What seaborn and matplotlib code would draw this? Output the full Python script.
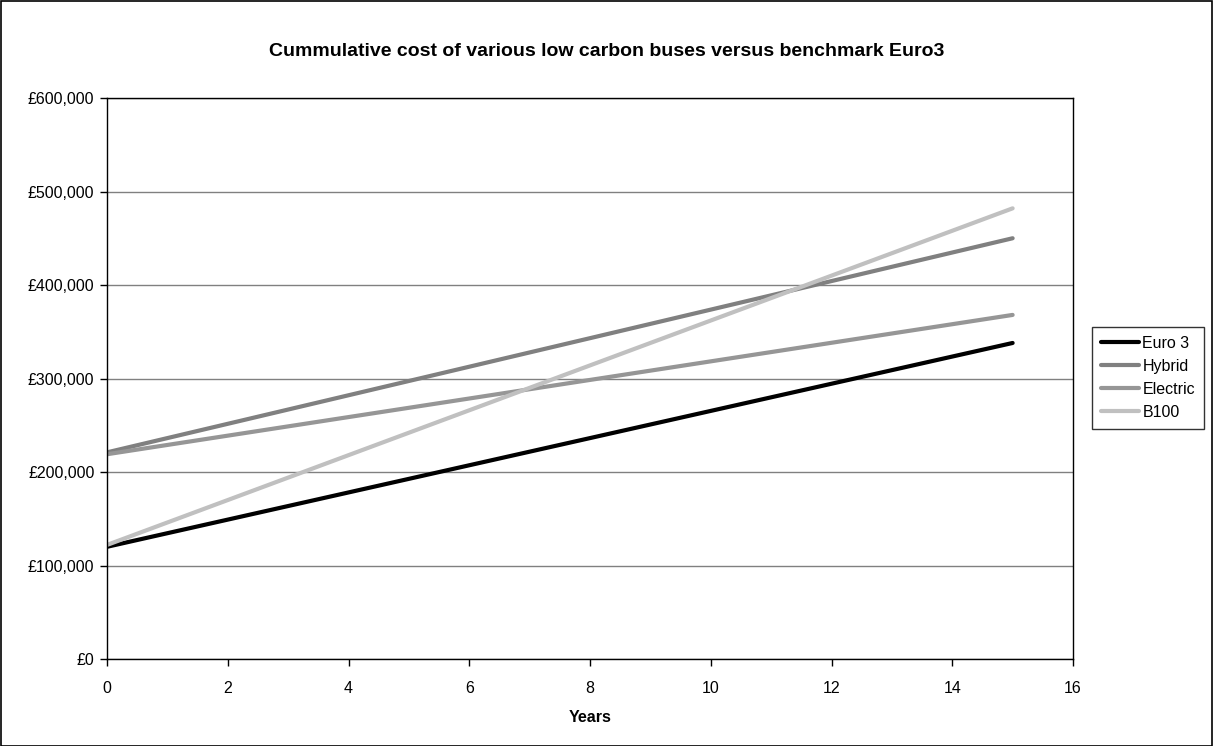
import numpy as np
import pandas as pd
import matplotlib
matplotlib.use("Agg")
import matplotlib.pyplot as plt
import matplotlib.ticker as mticker
from matplotlib.patches import Rectangle
import seaborn as sns

# straight lines from year 0 to year 15
years = [0, 15]
euro3 = [120000, 338000]
hybrid = [221000, 450000]
electric = [219000, 368000]
b100 = [122000, 482000]

series_names = ["Euro 3", "Hybrid", "Electric", "B100"]
colors = ["#000000", "#808080", "#969696", "#c0c0c0"]

df = pd.DataFrame({
    "Years": years * 4,
    "Cost": euro3 + hybrid + electric + b100,
    "Series": [n for n in series_names for _ in years],
})

sns.set_style("white")
plt.rcParams["font.family"] = ["Liberation Sans", "DejaVu Sans"]
plt.rcParams["text.color"] = "black"
plt.rcParams["axes.labelcolor"] = "black"
plt.rcParams["xtick.color"] = "black"
plt.rcParams["ytick.color"] = "black"

fig = plt.figure(figsize=(12.13, 7.46), dpi=100)
ax = fig.add_axes([107 / 1213, 1 - 659 / 746, (1073 - 107) / 1213, (659 - 98) / 746])

sns.lineplot(data=df, x="Years", y="Cost", hue="Series", hue_order=series_names,
             palette=colors, linewidth=3, ax=ax, legend=True)

ax.set_xlim(0, 16)
ax.set_ylim(0, 600000)
ax.set_xticks(range(0, 17, 2))
ax.set_yticks(range(0, 600001, 100000))
ax.yaxis.set_major_formatter(mticker.FuncFormatter(lambda v, p: f"£{int(v):,}"))
ax.grid(axis="y", color="#808080", linewidth=1)
ax.set_axisbelow(True)
for s in ax.spines.values():
    s.set_color("black")
    s.set_linewidth(1)
ax.tick_params(axis="both", direction="out", length=5, width=1, color="black",
               labelsize=11.5, pad=4, bottom=True, left=True)
ax.tick_params(axis="x", pad=11)
ax.set_xlabel("Years", fontsize=11.5, fontweight="bold", labelpad=10)
ax.set_ylabel("")

fig.suptitle("Cummulative cost of various low carbon buses versus benchmark Euro3",
             fontsize=14, fontweight="bold", y=1 - 51 / 746, va="center")

leg = ax.legend(loc="center left", bbox_to_anchor=(1092 / 1213, 1 - 378 / 746),
                bbox_transform=fig.transFigure, frameon=True, fancybox=False,
                fontsize=11.5, handlelength=2.4, handletextpad=0.2, borderpad=0.55,
                labelspacing=0.5, borderaxespad=0)
leg.get_frame().set_edgecolor("black")
leg.get_frame().set_linewidth(1)
for line in leg.get_lines():
    line.set_linewidth(3)

fig.patches.append(Rectangle((0.5 / 1213, 0.5 / 746), 1 - 1.5 / 1213, 1 - 1.5 / 746,
                             transform=fig.transFigure, fill=False,
                             edgecolor="black", linewidth=1.2))

fig.savefig("out.png", dpi=100)
